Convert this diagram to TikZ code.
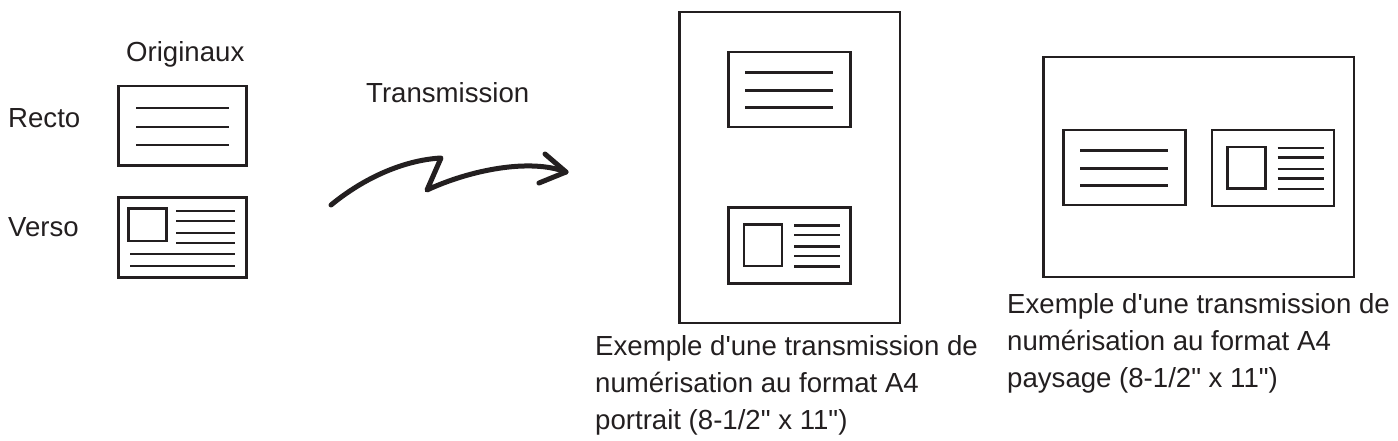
\documentclass[tikz,border=0pt]{standalone}
\usepackage{fontspec}
\newfontfamily\plainsans{Liberation Sans}
\definecolor{ink}{HTML}{231F20}
\tikzset{
  sheet/.style={draw=ink,line width=2.7pt,fill=white},
  rule/.style={draw=ink,line width=2.3pt},
  label/.style={anchor=base west,inner sep=0pt,text=ink,font=\plainsans\fontsize{27.6}{36}\selectfont},
  caption/.style={anchor=north west,inner sep=0pt,text=ink,align=left,font=\plainsans\fontsize{27.6}{37}\selectfont},
  pics/textcard/.style={code={
    \draw[sheet] (0,0) rectangle (122,75);
    \foreach \y in {20.5,38.5,55.5} \draw[rule] (16.5,\y) -- (104.5,\y);
  }},
  pics/photocard/.style={code={
    \draw[sheet] (0,0) rectangle (122,76);
    \draw[sheet] (15.5,17) rectangle (53.5,58.5);
    \foreach \y in {18,27.5,39,48.5,59} \draw[rule] (65.5,\y) -- (111.5,\y);
  }}
}
\begin{document}
\begin{tikzpicture}[x=1pt,y=-1pt]
\useasboundingbox (0,0) rectangle (1398,440);
% originals
\node[label] (orig) at (126,61) {Originaux};
\node[label] (recto) at (8,127) {Recto};
\node[label] (verso) at (8,236) {Verso};
\node[label] (trans) at (366,102.5) {Transmission};
\draw[sheet] (118.5,86) rectangle (246.5,165.5);
\foreach \y in {107.7,127,145} \draw[rule] (136,\y) -- (228.5,\y);
\draw[sheet] (118.5,197.7) rectangle (246.5,277.3);
\draw[sheet] (128.7,208.3) rectangle (166.5,241);
\foreach \y in {211,221,233,243} \draw[rule] (176,\y) -- (235,\y);
\foreach \y in {254,266} \draw[rule] (130,\y) -- (235,\y);
% arrow
\draw[draw=ink,line width=5pt,line cap=round,line join=round]
  (331,205) .. controls (365,177) and (405,160) .. (441,158)
  -- (427,190) .. controls (470,170) and (530,158) .. (566,172);
\draw[draw=ink,line width=5pt,line cap=round,line join=round]
  (545,154) -- (566,172) -- (539,183);
% portrait
\draw[sheet] (679.5,12) rectangle (900,323);
\pic at (728.5,52) {textcard};
\pic at (728.5,207.5) {photocard};
\node[caption] (capA) at (595,335) {Exemple d'une transmission de\\numérisation au format A4\\portrait (8-1/2" x 11")};
% landscape
\draw[sheet] (1043.3,57) rectangle (1354,277);
\pic at (1063.5,130) {textcard};
\pic at (1212,130) {photocard};
\node[caption] (capB) at (1007,293.5) {Exemple d'une transmission de\\numérisation au format A4\\paysage (8-1/2" x 11")};
\end{tikzpicture}
\end{document}
